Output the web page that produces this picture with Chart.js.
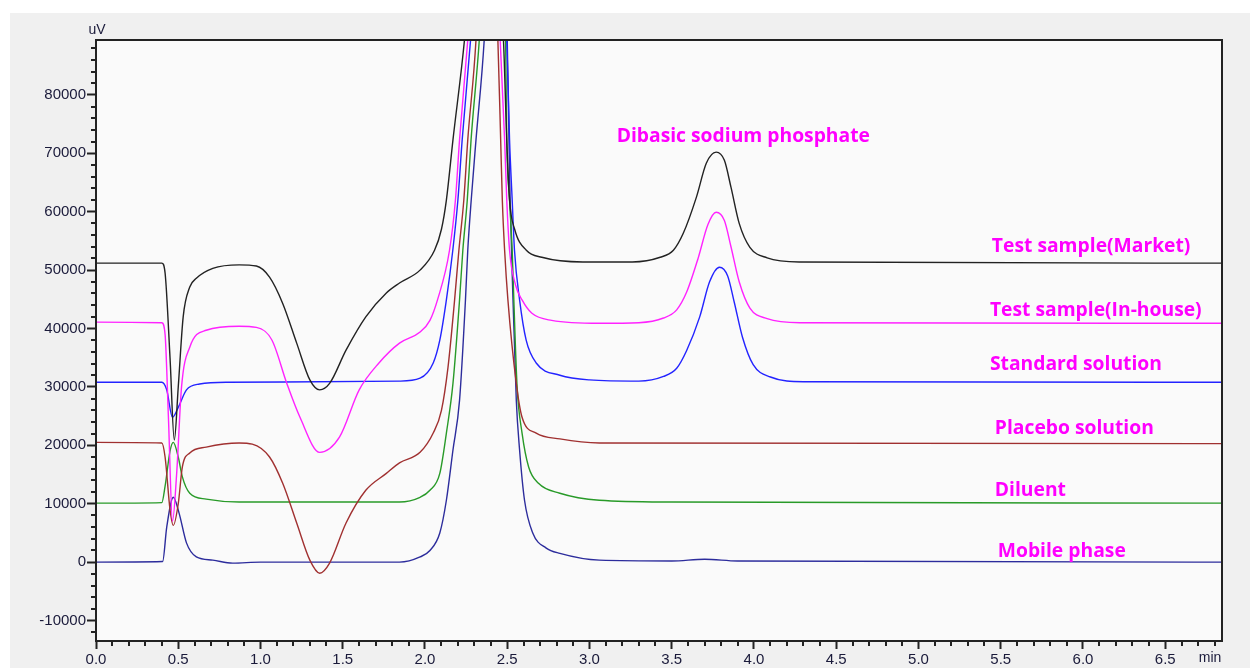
<!DOCTYPE html>
<html>
<head>
<meta charset="utf-8">
<script src="https://cdn.jsdelivr.net/npm/chart.js@4.4.0/dist/chart.umd.min.js"></script>
<style>
  html, body { margin: 0; padding: 0; background: #fff; }
  #wrap { width: 1250px; height: 668px; position: relative; }
</style>
</head>
<body>
<div id="wrap"><canvas id="chrom"></canvas></div>
<script>
'use strict';

// retention time (min), signal (uV)
const market = [[0,51200],[0.40,51200],[0.42,49500],[0.45,35000],[0.476,20900],[0.50,30000],[0.53,42000],[0.57,47100],[0.61,48600],[0.71,50300],[0.87,50900],[0.975,50700],[1.055,48800],[1.135,44300],[1.22,37500],[1.30,31200],[1.36,29500],[1.42,30600],[1.52,36300],[1.64,42000],[1.765,46100],[1.845,47800],[1.97,50000],[2.058,53400],[2.10,57000],[2.13,62000],[2.17,72300],[2.24,89400],[2.36,130000],[2.477,89400],[2.497,72300],[2.514,62000],[2.545,57000],[2.616,53400],[2.71,52200],[2.96,51400],[3.26,51400],[3.43,52200],[3.51,53400],[3.57,56300],[3.65,62500],[3.71,68300],[3.77,70200],[3.82,68800],[3.86,64200],[3.91,58000],[3.975,53900],[4.08,52100],[4.28,51400],[6.845,51200]];
const inHouse = [[0,41100],[0.40,41000],[0.42,39000],[0.44,25000],[0.465,7000],[0.49,15000],[0.52,30000],[0.57,36800],[0.67,39700],[0.87,40400],[0.975,40200],[1.07,38000],[1.16,30600],[1.24,24800],[1.36,18800],[1.48,21400],[1.60,29500],[1.72,34100],[1.845,37500],[1.97,39400],[2.03,41400],[2.076,44900],[2.149,53400],[2.185,62000],[2.21,72300],[2.26,89400],[2.36,130000],[2.457,89400],[2.484,72300],[2.497,62000],[2.514,53400],[2.55,47500],[2.59,44900],[2.65,42600],[2.77,41400],[3.06,40900],[3.30,41000],[3.45,41800],[3.53,43200],[3.59,46200],[3.66,52000],[3.72,57800],[3.77,59900],[3.82,58500],[3.86,54000],[3.91,48000],[3.975,43500],[4.08,41700],[4.28,41000],[6.845,40900]];
const standard = [[0,30800],[0.40,30800],[0.43,29500],[0.465,24800],[0.50,26500],[0.55,29500],[0.63,30500],[0.80,30800],[1.845,31000],[1.97,31500],[2.05,34100],[2.09,38000],[2.13,44900],[2.169,53400],[2.20,62000],[2.226,72300],[2.277,89400],[2.38,130000],[2.497,89400],[2.514,72300],[2.53,62000],[2.544,53400],[2.575,44900],[2.615,38000],[2.676,34100],[2.82,32000],[3.00,31200],[3.30,31000],[3.45,31800],[3.53,33200],[3.59,36200],[3.67,42000],[3.73,48000],[3.79,50500],[3.84,49000],[3.88,44500],[3.93,38500],[3.995,33800],[4.10,31700],[4.30,30900],[6.845,30800]];
const placebo = [[0,20500],[0.40,20400],[0.42,18000],[0.45,9000],[0.47,6300],[0.50,10000],[0.525,16300],[0.57,18700],[0.67,19700],[0.87,20400],[0.95,20200],[1.055,18000],[1.135,13500],[1.22,6700],[1.30,340],[1.36,-1900],[1.42,-170],[1.52,6700],[1.64,12300],[1.765,15200],[1.845,17000],[1.97,18800],[2.05,22100],[2.10,26000],[2.14,33400],[2.18,44900],[2.206,53400],[2.236,62000],[2.26,72300],[2.31,89400],[2.375,130000],[2.443,89400],[2.46,72300],[2.47,62000],[2.484,53400],[2.504,44900],[2.555,30600],[2.59,24800],[2.676,22100],[2.82,21100],[3.06,20400],[6.845,20300]];
const diluent = [[0,10100],[0.40,10200],[0.42,13000],[0.45,19000],[0.47,20500],[0.50,18000],[0.525,14600],[0.57,11800],[0.67,10800],[0.87,10300],[1.845,10300],[1.97,11100],[2.03,12300],[2.09,15200],[2.13,22100],[2.17,30600],[2.21,44900],[2.23,53400],[2.257,62000],[2.28,72300],[2.33,89400],[2.41,130000],[2.49,89400],[2.497,72300],[2.514,62000],[2.53,53400],[2.54,44900],[2.56,30000],[2.59,22100],[2.63,16300],[2.69,13500],[2.82,11800],[3.06,10600],[3.50,10300],[6.845,10100]];
const mobile = [[0,0],[0.405,100],[0.43,6000],[0.47,11100],[0.505,8400],[0.55,3300],[0.61,900],[0.71,340],[0.83,-170],[1.0,0],[1.845,0],[1.97,900],[2.03,2000],[2.09,5000],[2.13,10600],[2.17,19200],[2.21,27700],[2.246,44900],[2.26,53400],[2.281,62000],[2.31,72300],[2.36,89400],[2.43,130000],[2.50,89400],[2.515,65000],[2.535,44900],[2.545,36300],[2.555,27700],[2.575,19200],[2.605,10600],[2.655,5000],[2.737,2400],[2.82,1500],[3.06,340],[3.50,200],[3.70,500],[3.90,200],[6.845,0]];

const seriesNames = ['Test sample(Market)', 'Test sample(In-house)', 'Standard solution', 'Placebo solution', 'Diluent', 'Mobile phase'];
const seriesData = [market, inHouse, standard, placebo, diluent, mobile];
const seriesColors = ['#222222', '#ff22ff', '#2323ff', '#a03030', '#289a28', '#2c2c9c'];

const xTicks = [0, 0.5, 1, 1.5, 2, 2.5, 3, 3.5, 4, 4.5, 5, 5.5, 6, 6.5];
const yTicks = [-10000, 0, 10000, 20000, 30000, 40000, 50000, 60000, 70000, 80000];

// annotation text, left edge (min), middle (uV)
const labelText = ['Dibasic sodium phosphate', 'Test sample(Market)', 'Test sample(In-house)', 'Standard solution', 'Placebo solution', 'Diluent', 'Mobile phase'];
const labelTime = [3.165, 5.446, 5.434, 5.434, 5.464, 5.464, 5.482];
const labelLevel = [72900, 54100, 43000, 33900, 22900, 12200, 1900];

const TICK_FONT = { family: 'Liberation Sans', size: 15 };

const frame = {
  id: 'frame',
  beforeDraw(chart) {
    const c = chart.ctx, a = chart.chartArea;
    c.save();
    c.fillStyle = '#ffffff';
    c.fillRect(0, 0, chart.width, chart.height);
    c.fillStyle = '#f0f0f0';
    c.fillRect(10, 13, chart.width - 10, chart.height - 13);
    c.fillStyle = '#fafafa';
    c.fillRect(a.left, a.top, a.right - a.left, a.bottom - a.top);
    c.restore();
  },
  afterDraw(chart) {
    const c = chart.ctx, a = chart.chartArea;
    const xs = chart.scales.x, ys = chart.scales.y;
    c.save();
    c.strokeStyle = '#222';
    c.lineWidth = 2;
    c.strokeRect(a.left, a.top, a.right - a.left, a.bottom - a.top);
    // minor ticks
    c.beginPath();
    for (let i = 1; i <= 68; i++) {
      if (i % 5 === 0) continue;
      const px = Math.round(xs.getPixelForValue(i / 10));
      c.moveTo(px, a.bottom);
      c.lineTo(px, a.bottom + 5);
    }
    for (let v = -12000; v <= 88000; v += 2000) {
      if (v % 10000 === 0) continue;
      const py = Math.round(ys.getPixelForValue(v));
      c.moveTo(a.left - 5, py);
      c.lineTo(a.left, py);
    }
    c.stroke();
    // unit labels
    c.fillStyle = '#1a1a3a';
    c.font = '14px "Liberation Sans"';
    c.textAlign = 'center';
    c.textBaseline = 'middle';
    c.fillText('uV', a.left + 1, a.top - 10);
    c.fillText('min', a.right - 12, a.bottom + 17);
    // peak / trace annotations
    c.fillStyle = '#ff00ff';
    c.font = 'bold 19.3px "Open Sans"';
    c.textAlign = 'left';
    labelText.forEach((t, i) => {
      c.fillText(t, xs.getPixelForValue(labelTime[i]), ys.getPixelForValue(labelLevel[i]));
    });
    c.restore();
  }
};

new Chart(document.getElementById('chrom'), {
  type: 'line',
  data: {
    datasets: seriesData.map((d, i) => ({
      label: seriesNames[i],
      data: d.map(p => ({ x: p[0], y: p[1] })),
      borderColor: seriesColors[i],
      borderWidth: 1.4,
      pointRadius: 0,
      cubicInterpolationMode: 'monotone',
      fill: false
    }))
  },
  options: {
    responsive: true,
    maintainAspectRatio: false,
    animation: false,
    layout: { padding: { left: 10, top: 40, right: 28, bottom: 0 } },
    plugins: { legend: { display: false }, tooltip: { enabled: false } },
    scales: {
      x: {
        type: 'linear',
        min: 0,
        max: 6.845,
        afterBuildTicks: s => { s.ticks = xTicks.map(v => ({ value: v })); },
        afterFit: s => { s.height = 27; },
        ticks: { font: TICK_FONT, color: '#1a1a3a', padding: 2, maxRotation: 0, callback: v => v.toFixed(1) },
        grid: { drawOnChartArea: false, tickLength: 8, tickWidth: 2, tickColor: '#222' },
        border: { color: '#222', width: 2 }
      },
      y: {
        min: -13500,
        max: 89400,
        afterBuildTicks: s => { s.ticks = yTicks.map(v => ({ value: v })); },
        afterFit: s => { s.width = 86; },
        ticks: { font: TICK_FONT, color: '#1a1a3a', padding: 1, callback: v => String(v) },
        grid: { drawOnChartArea: false, tickLength: 9, tickWidth: 2, tickColor: '#222' },
        border: { color: '#222', width: 2 }
      }
    }
  },
  plugins: [frame]
});
</script>
</body>
</html>
